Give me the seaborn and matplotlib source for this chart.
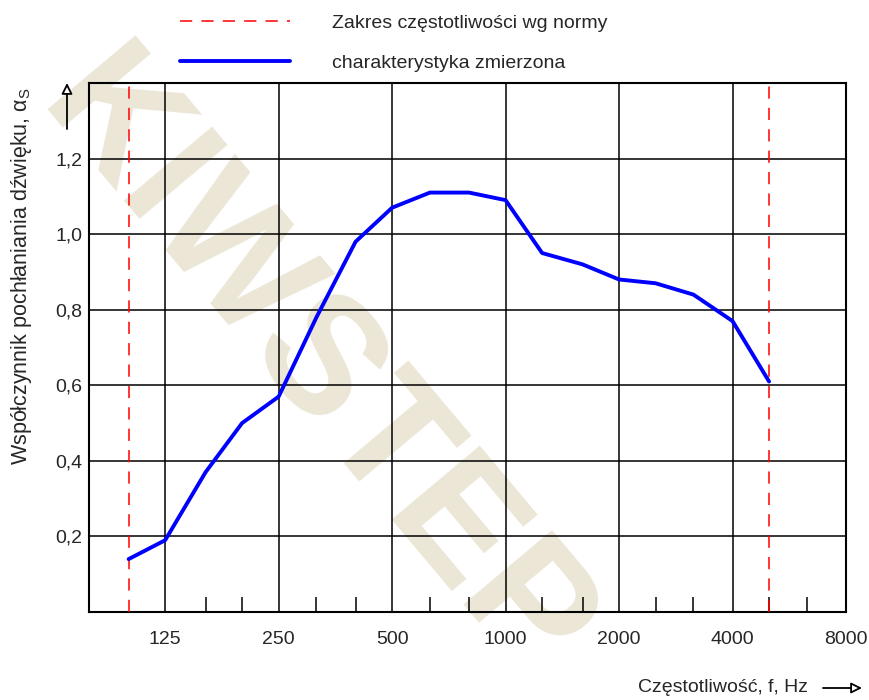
import seaborn as sns
import matplotlib.pyplot as plt
from matplotlib.ticker import FixedLocator, FixedFormatter, NullFormatter

# third-octave band centre frequencies, Hz, and measured absorption coefficient
freq = [100, 125, 160, 200, 250, 315, 400, 500, 630, 800,
        1000, 1250, 1600, 2000, 2500, 3150, 4000, 5000]
alpha_s = [0.14, 0.19, 0.37, 0.50, 0.57, 0.78, 0.98, 1.07, 1.11, 1.11,
           1.09, 0.95, 0.92, 0.88, 0.87, 0.84, 0.77, 0.61]

# frequency range required by the standard
norm_range = [100, 5000]

octave_ticks = [125, 250, 500, 1000, 2000, 4000, 8000]
third_ticks = [160, 200, 315, 400, 630, 800, 1250, 1600, 2500, 3150, 5000, 6300]
y_ticks = [0.2, 0.4, 0.6, 0.8, 1.0, 1.2]
y_labels = ["0,2", "0,4", "0,6", "0,8", "1,0", "1,2"]

sns.set_style("white")
plt.rcParams['font.family'] = ['Liberation Sans', 'DejaVu Sans']
fs = 14
plt.rcParams['font.size'] = fs
em = fs * 100 / 72  # font size in pixels

fig = plt.figure(figsize=(8.69, 7.0), dpi=100)
ax = fig.add_axes([89 / 869, 88 / 700, 757 / 869, 529 / 700])
ax.set_facecolor('none')

# watermark behind everything
fig.text(312 / 869, 1 - 372 / 700, "KIWSTEP", rotation=-50, ha='center', va='center',
         fontsize=120, fontweight='bold', color='#EBE6D6', zorder=-10)

red_lines = []
for f in norm_range:
    l = ax.axvline(f, color='red', lw=1.1, dashes=(8, 6), zorder=3,
                   label='Zakres częstotliwości wg normy')
    red_lines.append(l)

sns.lineplot(x=freq, y=alpha_s, ax=ax, color='blue', lw=2.8, zorder=4,
             label='charakterystyka zmierzona', legend=False)
blue_line = ax.get_lines()[-1]

ax.set_xscale('log')
ax.set_xlim(78.5, 8000)
ax.set_ylim(0, 1.4)

ax.xaxis.set_major_locator(FixedLocator(octave_ticks))
ax.xaxis.set_major_formatter(FixedFormatter([str(t) for t in octave_ticks]))
ax.xaxis.set_minor_locator(FixedLocator(third_ticks))
ax.xaxis.set_minor_formatter(NullFormatter())
ax.yaxis.set_major_locator(FixedLocator(y_ticks))
ax.yaxis.set_major_formatter(FixedFormatter(y_labels))

ax.tick_params(axis='x', which='major', length=0, pad=14, labelsize=fs)
ax.tick_params(axis='x', which='minor', direction='in', length=11, width=1.1,
               color='black', bottom=True, top=False)
ax.tick_params(axis='y', which='major', length=0, pad=5, labelsize=fs)

ax.grid(True, which='major', color='black', lw=1.1)
ax.set_axisbelow(True)
for s in ax.spines.values():
    s.set_color('black')
    s.set_linewidth(1.5)
    s.set_visible(True)

ax.set_xlabel('')
ax.set_ylabel('')

fig.legend(handles=[red_lines[0], blue_line],
           labels=['Zakres częstotliwości wg normy', 'charakterystyka zmierzona'],
           loc='upper left', bbox_to_anchor=(180 / 869, 1 - 14 / 700),
           frameon=False, borderpad=0, borderaxespad=0, handlelength=110 / em,
           handletextpad=42 / em, labelspacing=1.15, fontsize=fs)

fig.text(22 / 869, 1 - 276 / 700, 'Współczynnik pochłaniania dźwięku, α$_\\mathregular{S}$',
         rotation=90, ha='center', va='center', fontsize=15.5)
fig.text(808 / 869, 12 / 700, 'Częstotliwość, f, Hz', ha='right', va='center', fontsize=fs)

arrow = dict(arrowstyle='-|>', lw=1.3, fc='white', ec='black', mutation_scale=16,
             shrinkA=0, shrinkB=0)
ax.annotate('', xy=(67, 700 - 83), xytext=(67, 700 - 129),
            xycoords='figure pixels', textcoords='figure pixels', arrowprops=arrow)
ax.annotate('', xy=(862, 12), xytext=(823, 12),
            xycoords='figure pixels', textcoords='figure pixels', arrowprops=arrow)

fig.savefig('out.png', dpi=100)
